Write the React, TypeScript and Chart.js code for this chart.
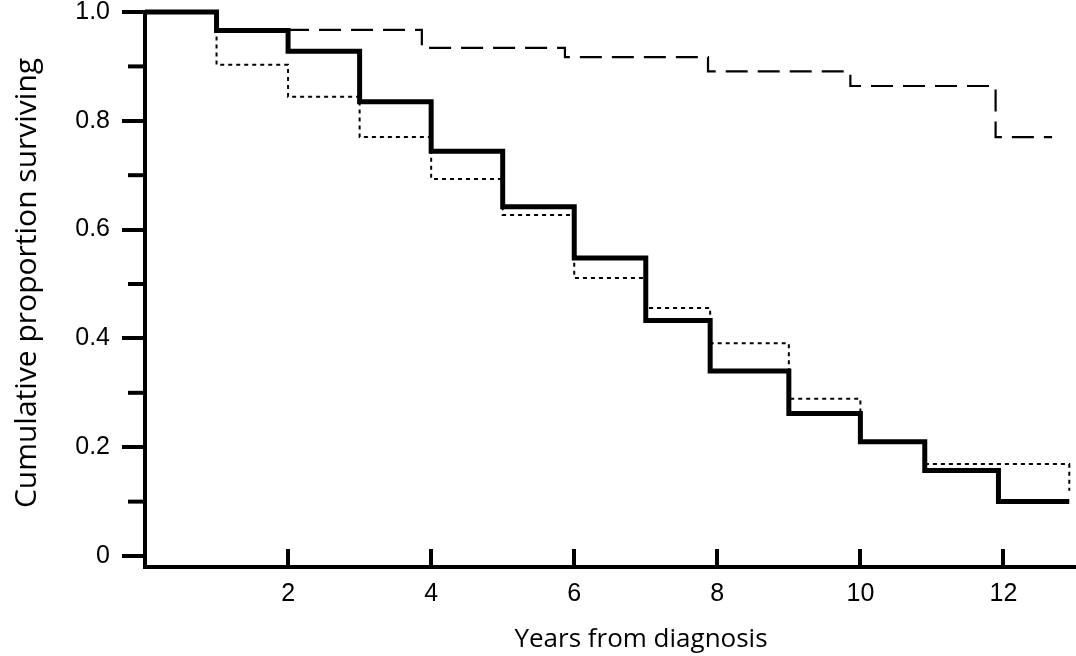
import { useEffect, useRef } from 'react';
import { Chart, registerables } from 'chart.js';

Chart.register(...registerables);

// Kaplan-Meier style step curves (years from diagnosis, cumulative proportion surviving)
const SOLID_YEARS = [0, 1, 2, 3, 4, 5, 6, 7, 7.9, 9, 10, 10.9, 11.93, 12.92];
const SOLID_SURV = [1.0, 0.966, 0.928, 0.835, 0.744, 0.642, 0.548, 0.433, 0.34, 0.262, 0.21, 0.157, 0.1, 0.1];

const DOTTED_YEARS = [0, 1, 2, 3, 4, 5, 6, 7, 7.9, 9, 10, 10.9, 12.92];
const DOTTED_SURV = [1.0, 0.903, 0.844, 0.77, 0.693, 0.627, 0.511, 0.456, 0.391, 0.289, 0.21, 0.169, 0.12];

const DASHED_YEARS = [0, 1, 3.87, 5.87, 7.87, 9.86, 11.89, 12.68];
const DASHED_SURV = [1.0, 0.967, 0.934, 0.917, 0.891, 0.864, 0.77, 0.77];

const X_TICKS = [2, 4, 6, 8, 10, 12];
const X_TICK_LABELS = ['2', '4', '6', '8', '10', '12'];
const Y_TICKS = [0, 0.2, 0.4, 0.6, 0.8, 1.0];
const Y_TICK_LABELS = ['0', '0.2', '0.4', '0.6', '0.8', '1.0'];
const Y_MINOR_TICKS = [0.1, 0.3, 0.5, 0.7, 0.9];

const X_TITLE = 'Years from diagnosis';
const Y_TITLE = 'Cumulative proportion surviving';

const TICK_FONT = { family: '"Liberation Sans", Arial, sans-serif', size: 25 };
const TITLE_FAMILY = '"Open Sans", Lato, sans-serif';

function toPoints(xs: number[], ys: number[]) {
  return xs.map((x, i) => ({ x, y: ys[i] }));
}

const extrasPlugin = {
  id: 'extras',
  afterDraw(chart: any) {
    const { ctx, chartArea } = chart;
    const yScale = chart.scales.y;
    ctx.save();
    // minor ticks on y axis
    ctx.strokeStyle = '#000';
    ctx.lineWidth = 4;
    Y_MINOR_TICKS.forEach((v) => {
      const py = yScale.getPixelForValue(v);
      ctx.beginPath();
      ctx.moveTo(chartArea.left - 17, py);
      ctx.lineTo(chartArea.left, py);
      ctx.stroke();
    });
    // axis titles
    ctx.fillStyle = '#000';
    ctx.font = `26px ${TITLE_FAMILY}`;
    ctx.textAlign = 'center';
    ctx.textBaseline = 'alphabetic';
    ctx.fillText(X_TITLE, 641, 647);
    ctx.translate(36, 283);
    ctx.rotate(-Math.PI / 2);
    ctx.font = `30px ${TITLE_FAMILY}`;
    ctx.fillText(Y_TITLE, 0, 0);
    ctx.restore();
  },
};

export default function App() {
  const ref = useRef<HTMLCanvasElement | null>(null);

  useEffect(() => {
    document.body.style.margin = '0';
    const canvas = ref.current;
    if (!canvas) return;
    const chart = new Chart(canvas, {
      type: 'line',
      data: {
        datasets: [
          {
            label: 'solid',
            data: toPoints(SOLID_YEARS, SOLID_SURV),
            stepped: 'before',
            borderColor: '#000',
            borderWidth: 5,
            pointRadius: 0,
            fill: false,
            clip: false as any,
            order: 0,
          },
          {
            label: 'dotted',
            data: toPoints(DOTTED_YEARS, DOTTED_SURV),
            stepped: 'before',
            borderColor: '#000',
            borderWidth: 2,
            borderDash: [4, 4],
            pointRadius: 0,
            fill: false,
            clip: false as any,
            order: 1,
          },
          {
            label: 'dashed',
            data: toPoints(DASHED_YEARS, DASHED_SURV),
            stepped: 'before',
            borderColor: '#000',
            borderWidth: 2.2,
            borderDash: [22, 10],
            pointRadius: 0,
            fill: false,
            clip: false as any,
            order: 2,
          },
        ],
      },
      options: {
        animation: false,
        responsive: false,
        devicePixelRatio: 1,
        layout: { padding: { top: 12, right: 1, left: 0, bottom: 0 } },
        plugins: { legend: { display: false }, tooltip: { enabled: false } },
        scales: {
          x: {
            type: 'linear',
            min: 0,
            max: 13,
            afterBuildTicks: (s: any) => {
              s.ticks = X_TICKS.map((v) => ({ value: v }));
            },
            afterFit: (s: any) => {
              s.height = 89;
              s.paddingLeft = 0;
              s.paddingRight = 0;
            },
            ticks: {
              font: TICK_FONT,
              color: '#000',
              padding: 30,
              maxRotation: 0,
              autoSkip: false,
              callback: (_v: any, i: number) => X_TICK_LABELS[i],
            },
            grid: {
              drawOnChartArea: false,
              drawTicks: true,
              tickLength: -18,
              lineWidth: 4,
              tickWidth: 4,
              color: '#000',
              tickColor: '#000',
            },
            border: { display: true, width: 4, color: '#000' },
          },
          y: {
            type: 'linear',
            min: -0.0202,
            max: 1.0,
            afterBuildTicks: (s: any) => {
              s.ticks = Y_TICKS.map((v) => ({ value: v }));
            },
            afterFit: (s: any) => {
              s.width = 145;
              s.paddingTop = 0;
              s.paddingBottom = 0;
            },
            ticks: {
              font: TICK_FONT,
              color: '#000',
              padding: 12,
              autoSkip: false,
              callback: (_v: any, i: number) => Y_TICK_LABELS[i],
            },
            grid: {
              drawOnChartArea: false,
              drawTicks: true,
              tickLength: 23,
              lineWidth: 4,
              tickWidth: 4,
              color: '#000',
              tickColor: '#000',
            },
            border: { display: true, width: 4, color: '#000' },
          },
        },
      },
      plugins: [extrasPlugin],
    });
    return () => chart.destroy();
  }, []);

  return (
    <div style={{ width: 1076, height: 656, background: '#fff' }}>
      <canvas ref={ref} width={1076} height={656} style={{ display: 'block' }} />
    </div>
  );
}
